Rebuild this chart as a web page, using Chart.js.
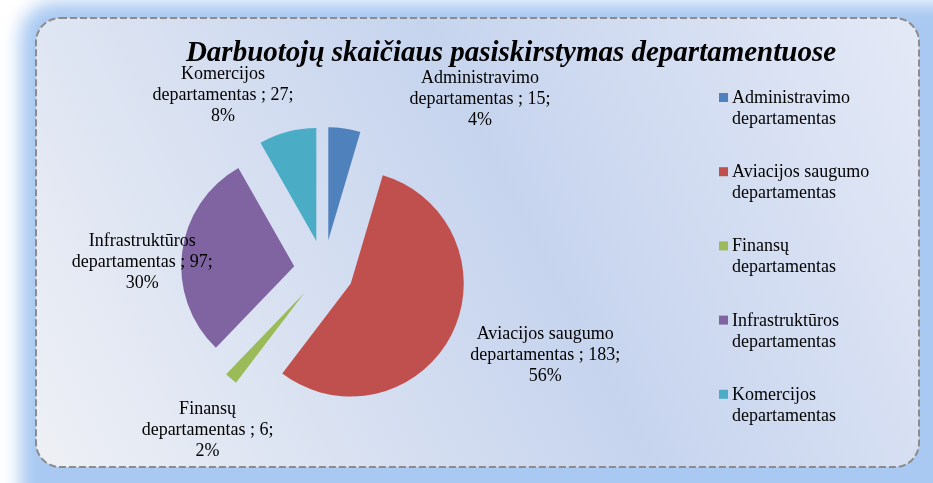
<!DOCTYPE html>
<html>
<head>
<meta charset="utf-8">
<script src="https://cdn.jsdelivr.net/npm/chart.js@4.4.0/dist/chart.umd.min.js"></script>
<style>
html, body { margin: 0; padding: 0; background: #fff; }
#wrap { position: relative; width: 933px; height: 483px; }
</style>
</head>
<body>
<div id="wrap"><canvas id="pieChart" width="933" height="483"></canvas></div>
<script>
var chartTitle = 'Darbuotojų skaičiaus pasiskirstymas departamentuose';
var departments = ['Administravimo departamentas', 'Aviacijos saugumo departamentas', 'Finansų departamentas', 'Infrastruktūros departamentas', 'Komercijos departamentas'];
var employees = [15, 183, 6, 97, 27];
var percents = [4, 56, 2, 30, 8];
var sliceColors = ['#4F81BD', '#C0504D', '#9BBB59', '#8064A2', '#4BACC6'];

// where each data label sits: [angle clockwise from top in deg, distance from pie centre]
var labelSpots = [[42.5, 231], [111, 237], [216, 198], [272.5, 182], [330, 202]];

var pieRadius = 113;
var explode = 120;   // chart.js moves a slice by offset / 4
var serif = '"Liberation Serif", "Times New Roman", serif';

function roundRect(ctx, x, y, w, h, r) {
    ctx.beginPath();
    ctx.moveTo(x + r, y);
    ctx.lineTo(x + w - r, y);
    ctx.arcTo(x + w, y, x + w, y + r, r);
    ctx.lineTo(x + w, y + h - r);
    ctx.arcTo(x + w, y + h, x + w - r, y + h, r);
    ctx.lineTo(x + r, y + h);
    ctx.arcTo(x, y + h, x, y + h - r, r);
    ctx.lineTo(x, y + r);
    ctx.arcTo(x, y, x + r, y, r);
    ctx.closePath();
}

function splitName(name) {
    var i = name.lastIndexOf(' ');
    return [name.substring(0, i), name.substring(i + 1)];
}

var frame = {
    id: 'frame',
    beforeDraw: function (chart) {
        var ctx = chart.ctx;
        ctx.save();
        ctx.fillStyle = '#fff';
        ctx.fillRect(0, 0, chart.width, chart.height);
        // blue glow round the box
        ctx.filter = 'blur(9px)';
        ctx.fillStyle = '#a9c9f2';
        roundRect(ctx, 20, 2, 980, 540, 36);
        ctx.fill();
        ctx.filter = 'none';
        var g = ctx.createLinearGradient(919, 18, 36, 467);
        g.addColorStop(0, '#e4e9f6');
        g.addColorStop(0.45, '#c6d4ee');
        g.addColorStop(1, '#eef0f5');
        ctx.fillStyle = g;
        roundRect(ctx, 36, 18, 883, 449, 24);
        ctx.fill();
        ctx.setLineDash([7, 3]);
        ctx.lineWidth = 2;
        ctx.strokeStyle = '#8c8c8c';
        ctx.stroke();
        ctx.restore();
    }
};

// keep every exploded slice at the same radius and its full angle
var sliceFix = {
    id: 'sliceFix',
    beforeDatasetsDraw: function (chart) {
        chart.getDatasetMeta(0).data.forEach(function (arc) {
            var c = arc.circumference;
            var grow = (explode / 4) * (1 - Math.sin(Math.min(Math.PI, c)));
            var mid = (arc.startAngle + arc.endAngle) / 2;
            var widen = grow / (2 * Math.PI * pieRadius);
            arc.outerRadius = pieRadius - grow;
            arc.startAngle = mid - c / 2 - widen;
            arc.endAngle = mid + c / 2 + widen;
        });
    }
};

var texts = {
    id: 'texts',
    afterDraw: function (chart) {
        var ctx = chart.ctx;
        var arc0 = chart.getDatasetMeta(0).data[0];
        var cx = arc0.x, cy = arc0.y;
        ctx.save();
        ctx.fillStyle = '#000';
        ctx.textAlign = 'center';
        ctx.textBaseline = 'alphabetic';
        ctx.font = 'italic bold 29px ' + serif;
        ctx.fillText(chartTitle, 511, 61);

        ctx.font = '18px ' + serif;
        ctx.textBaseline = 'middle';
        departments.forEach(function (name, i) {
            var a = labelSpots[i][0] * Math.PI / 180, d = labelSpots[i][1];
            var x = cx + Math.sin(a) * d, y = cy - Math.cos(a) * d;
            var parts = splitName(name);
            ctx.fillText(parts[0], x, y - 21);
            ctx.fillText(parts[1] + ' ; ' + employees[i] + ';', x, y);
            ctx.fillText(percents[i] + '%', x, y + 21);
        });

        ctx.textAlign = 'left';
        ctx.textBaseline = 'alphabetic';
        departments.forEach(function (name, i) {
            var y = 103 + i * 74.2;
            var parts = splitName(name);
            ctx.fillStyle = sliceColors[i];
            ctx.fillRect(719, y - 10, 9, 9);
            ctx.fillStyle = '#000';
            ctx.fillText(parts[0], 732, y);
            ctx.fillText(parts[1], 732, y + 21);
        });
        ctx.restore();
    }
};

var pieChart = new Chart(document.getElementById('pieChart').getContext('2d'), {
    type: 'pie',
    data: {
        labels: departments,
        datasets: [{
            data: employees,
            backgroundColor: sliceColors,
            borderWidth: 0,
            offset: explode,
            hoverOffset: explode
        }]
    },
    options: {
        responsive: false,
        animation: false,
        events: [],
        radius: pieRadius,
        layout: { padding: { left: 100, right: 385, top: 100, bottom: 43 } },
        plugins: {
            legend: { display: false },
            title: { display: false },
            tooltip: { enabled: false }
        }
    },
    plugins: [frame, sliceFix, texts]
});
</script>
</body>
</html>
